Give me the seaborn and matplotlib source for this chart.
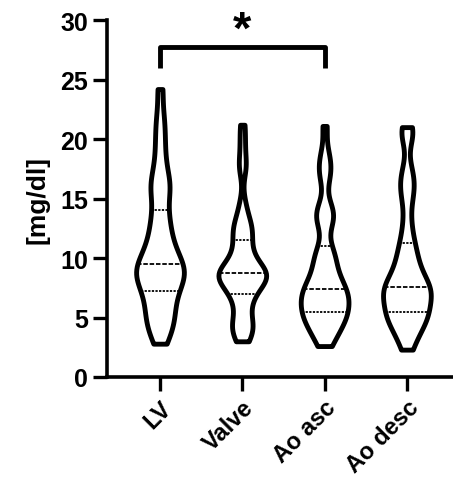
import pandas as pd
import matplotlib
matplotlib.use("Agg")
import matplotlib.pyplot as plt
from matplotlib.collections import LineCollection
import seaborn as sns

# Dane
grupy = ["LV", "Valve", "Ao asc", "Ao desc"]
lv = [2.8, 3.5, 4.0, 4.4, 4.8, 5.2, 5.6, 6.0, 6.4, 6.8, 7.2,
      7.5, 7.8, 8.1, 8.3, 8.5, 8.7, 8.9, 9.1, 9.3, 9.5,
      9.8, 10.1, 10.4, 10.8, 11.2, 11.7, 12.2, 12.8, 13.4, 14.0,
      15.0, 15.7, 16.1, 16.5, 17.3, 18.3, 19.5, 20.7, 22.0, 24.2]
valve = [3.0, 3.4, 3.8, 4.1, 4.4, 4.7, 5.1, 5.8, 6.3, 6.7, 7.0,
         7.3, 7.6, 7.8, 8.0, 8.15, 8.3, 8.4, 8.5, 8.6, 8.7,
         8.8, 8.95, 9.1, 9.3, 9.5, 9.8, 10.2, 10.6, 11.0, 11.5,
         12.0, 12.3, 12.6, 13.0, 13.6, 14.6, 17.4, 18.2, 19.7, 21.2]
ao_asc = [2.6, 3.1, 3.5, 3.9, 4.2, 4.5, 4.7, 4.9, 5.1, 5.3, 5.5,
          5.7, 5.9, 6.1, 6.3, 6.5, 6.7, 6.9, 7.1, 7.25, 7.4,
          7.6, 7.9, 8.2, 8.5, 8.9, 9.3, 9.8, 10.2, 10.5, 11.0,
          12.8, 13.2, 13.6, 14.0, 14.4, 16.6, 17.3, 18.0, 18.8, 21.1]
ao_desc = [2.3, 3.0, 3.5, 3.9, 4.3, 4.6, 4.8, 5.0, 5.2, 5.35, 5.5,
           5.8, 6.1, 6.4, 6.6, 6.8, 7.0, 7.15, 7.3, 7.45, 7.6,
           7.8, 8.0, 8.3, 8.6, 9.0, 9.4, 9.8, 10.3, 10.8, 11.3,
           12.2, 13.3, 14.8, 15.6, 16.2, 16.8, 17.6, 20.2, 20.6, 21.0]
yticks = [0, 5, 10, 15, 20, 25, 30]
istotnosc = ("LV", "Ao asc", "*")

df = pd.DataFrame({
    "grupa": ["LV"] * len(lv) + ["Valve"] * len(valve)
             + ["Ao asc"] * len(ao_asc) + ["Ao desc"] * len(ao_desc),
    "wartosc": lv + valve + ao_asc + ao_desc,
})

sns.set_style("ticks")
plt.rcParams["font.family"] = ["Liberation Sans", "DejaVu Sans"]
plt.rcParams["font.weight"] = "bold"
for k in ["text.color", "axes.labelcolor", "xtick.color", "ytick.color",
          "axes.edgecolor"]:
    plt.rcParams[k] = "black"

fig = plt.figure(figsize=(4.53, 4.89), dpi=100)
ax = fig.add_axes([0.236, 0.227, 0.764, 0.730])

sns.violinplot(data=df, x="grupa", y="wartosc", order=grupy, ax=ax,
               inner="quart", cut=0, density_norm="width", width=0.58,
               bw_adjust=0.45, color="white", linecolor="black",
               linewidth=3.5, inner_kws={"linewidth": 1.3})

# kwartyle kropkowane, mediana kreskowana
for coll in ax.collections:
    if isinstance(coll, LineCollection):
        coll.set_linestyles([(0, (1, 1)), (0, (3, 1.6)), (0, (1, 1))])
        coll.set_linewidths([1.1, 1.8, 1.1])

# Nawias istotności
x1, x2 = grupy.index(istotnosc[0]), grupy.index(istotnosc[1])
ax.plot([x1, x1, x2, x2], [26.0, 27.7, 27.7, 26.0], color="black",
        linewidth=3.5, solid_capstyle="butt")
ax.text((x1 + x2) / 2, 28.1, istotnosc[2], ha="center", va="baseline",
        fontsize=34, fontweight="bold")

ax.set_ylim(0, 30)
ax.set_xlim(-0.645, 3.56)
ax.set_yticks(yticks)
ax.set_xlabel("")
ax.set_ylabel("[mg/dl]", fontsize=19, fontweight="bold", labelpad=8)
ax.tick_params(axis="both", width=2.4, length=10, labelsize=18)
plt.setp(ax.get_xticklabels(), rotation=45, ha="right",
         rotation_mode="anchor", fontweight="bold", fontsize=17)
plt.setp(ax.get_yticklabels(), fontweight="bold")
for s in ["left", "bottom"]:
    ax.spines[s].set_linewidth(2.6)
sns.despine(ax=ax)

fig.savefig("out.png", dpi=100)
